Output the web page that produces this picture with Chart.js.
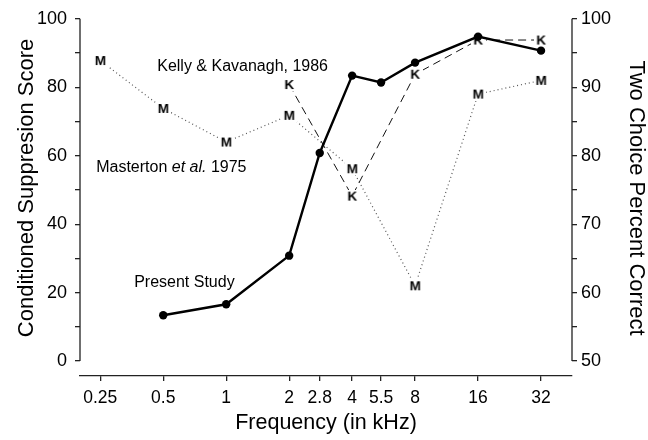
<!DOCTYPE html>
<html>
<head>
<meta charset="utf-8">
<script src="https://cdn.jsdelivr.net/npm/chart.js@4.4.0/dist/chart.umd.min.js"></script>
<style>
  html, body { margin: 0; padding: 0; background: #fff; }
</style>
</head>
<body>
<canvas id="grafico" width="648" height="440"></canvas>
<script>
// valores
const freqTicks = [0.25, 0.5, 1, 2, 2.8, 4, 5.5, 8, 16, 32];

const presentFreq = [0.5, 1, 2, 2.8, 4, 5.5, 8, 16, 32];
const presentScore = [13.4, 16.6, 30.8, 60.8, 83.4, 81.4, 87.2, 94.8, 90.7];

const kellyFreq = [2, 4, 8, 16, 32];
const kellyPct = [90.4, 74.1, 91.9, 96.9, 96.9];

const mastertonFreq = [0.25, 0.5, 1, 2, 4, 8, 16, 32];
const mastertonPct = [93.9, 86.9, 82.0, 85.9, 78.1, 61.0, 89.0, 91.0];

const leftTickMarks = [0, 5, 10, 15, 20, 25, 30, 35, 40, 45, 50, 55, 60, 65, 70, 75, 80, 85, 90, 95, 100];
const leftLabels = [0, 20, 40, 60, 80, 100];
const rightTickMarks = [50, 52.5, 55, 57.5, 60, 62.5, 65, 67.5, 70, 72.5, 75, 77.5, 80, 82.5, 85, 87.5, 90, 92.5, 95, 97.5, 100];
const rightLabels = [50, 60, 70, 80, 90, 100];

// rótulos dentro do gráfico (freq, escore à esquerda)
const notes = [
  { text: ['Kelly & Kavanagh, 1986'], x: 0.468, y: 86.0 },
  { text: ['Masterton ', 'et al.', ' 1975'], x: 0.239, y: 56.4 },
  { text: ['Present Study'], x: 0.363, y: 23.0 }
];

const FONT = '"Liberation Sans", Arial, sans-serif';
Chart.defaults.font.family = FONT;
Chart.defaults.color = '#000';

function toPoints(xs, ys) {
  return xs.map((f, i) => ({ x: f, y: ys[i] }));
}

// marcador com letra (fundo branco, como no original)
function letra(ch) {
  const c = document.createElement('canvas');
  c.width = 15; c.height = 13;
  const g = c.getContext('2d');
  g.fillStyle = '#fff';
  g.fillRect(0, 0, 15, 13);
  g.fillStyle = '#000';
  g.font = 'bold 13.5px ' + FONT;
  g.textAlign = 'center';
  g.textBaseline = 'middle';
  g.fillText(ch, 7.5, 7);
  return c;
}

const extras = {
  id: 'extras',
  afterDraw(chart) {
    const { ctx, scales } = chart;
    const yl = scales.y, yr = scales.y2, x = scales.x;
    ctx.save();
    // eixos verticais só no intervalo dos dados
    ctx.strokeStyle = '#222';
    ctx.lineWidth = 1.3;
    ctx.beginPath();
    ctx.moveTo(yl.right, yl.getPixelForValue(0));
    ctx.lineTo(yl.right, yl.getPixelForValue(100));
    ctx.moveTo(yr.left, yr.getPixelForValue(50));
    ctx.lineTo(yr.left, yr.getPixelForValue(100));
    ctx.stroke();

    // títulos verticais
    ctx.fillStyle = '#000';
    ctx.font = '22px ' + FONT;
    ctx.textAlign = 'center';
    ctx.textBaseline = 'middle';
    ctx.save();
    ctx.translate(27, 188);
    ctx.rotate(-Math.PI / 2);
    ctx.fillText('Conditioned Suppresion Score', 0, 0);
    ctx.restore();
    ctx.save();
    ctx.translate(636, 198);
    ctx.rotate(Math.PI / 2);
    ctx.fillText('Two Choice Percent Correct', 0, 0);
    ctx.restore();

    // anotações
    ctx.textAlign = 'left';
    notes.forEach(n => {
      let px = x.getPixelForValue(n.x);
      const py = yl.getPixelForValue(n.y);
      n.text.forEach(part => {
        ctx.font = (part === 'et al.' ? 'italic ' : '') + '16px ' + FONT;
        ctx.fillText(part, px, py);
        px += ctx.measureText(part).width;
      });
    });
    ctx.restore();
  }
};

const ctx = document.getElementById('grafico').getContext('2d');
const grafico = new Chart(ctx, {
  type: 'line',
  data: {
    datasets: [{
      label: 'Present Study',
      data: toPoints(presentFreq, presentScore),
      yAxisID: 'y',
      borderColor: '#000',
      backgroundColor: '#000',
      borderWidth: 2.4,
      pointRadius: 4.2,
      pointBorderWidth: 0,
      order: 0
    }, {
      label: 'Kelly & Kavanagh, 1986',
      data: toPoints(kellyFreq, kellyPct),
      yAxisID: 'y2',
      borderColor: '#111',
      borderWidth: 1,
      borderDash: [8, 5],
      pointStyle: letra('K'),
      order: 1
    }, {
      label: 'Masterton et al. 1975',
      data: toPoints(mastertonFreq, mastertonPct),
      yAxisID: 'y2',
      borderColor: '#555',
      borderWidth: 1.2,
      borderDash: [1, 3],
      pointStyle: letra('M'),
      order: 2
    }]
  },
  options: {
    responsive: false,
    animation: false,
    events: [],
    layout: { padding: { top: 17, left: 0, right: 0, bottom: 0 } },
    plugins: {
      legend: { display: false },
      tooltip: { enabled: false }
    },
    scales: {
      x: {
        type: 'logarithmic',
        min: 0.2,
        max: 45,
        afterBuildTicks: s => { s.ticks = freqTicks.map(v => ({ value: v })); },
        afterFit: s => { s.height = 64; },
        ticks: {
          autoSkip: false,
          maxRotation: 0,
          padding: 7,
          font: { size: 17.5 },
          callback: v => String(v)
        },
        grid: { drawOnChartArea: false, tickLength: 5, color: '#222', lineWidth: 1.3 },
        border: { display: true, color: '#222', width: 1.3 },
        title: {
          display: true,
          text: 'Frequency (in kHz)',
          font: { size: 21.5 },
          padding: { top: 0, bottom: 4 }
        }
      },
      y: {
        position: 'left',
        min: -4.36,
        max: 100,
        afterBuildTicks: s => { s.ticks = leftTickMarks.map(v => ({ value: v })); },
        afterFit: s => { s.width = 80; },
        ticks: {
          padding: 8,
          font: { size: 18 },
          callback: v => leftLabels.includes(v) ? String(v) : ''
        },
        grid: { drawOnChartArea: false, tickLength: 5, color: '#222', lineWidth: 1.3 },
        border: { display: false }
      },
      y2: {
        position: 'right',
        min: 47.82,
        max: 100,
        afterBuildTicks: s => { s.ticks = rightTickMarks.map(v => ({ value: v })); },
        afterFit: s => { s.width = 76; },
        ticks: {
          padding: 4,
          font: { size: 18 },
          callback: v => rightLabels.includes(v) ? String(v) : ''
        },
        grid: { drawOnChartArea: false, tickLength: 5, color: '#222', lineWidth: 1.3 },
        border: { display: false }
      }
    }
  },
  plugins: [extras]
});
</script>
</body>
</html>
